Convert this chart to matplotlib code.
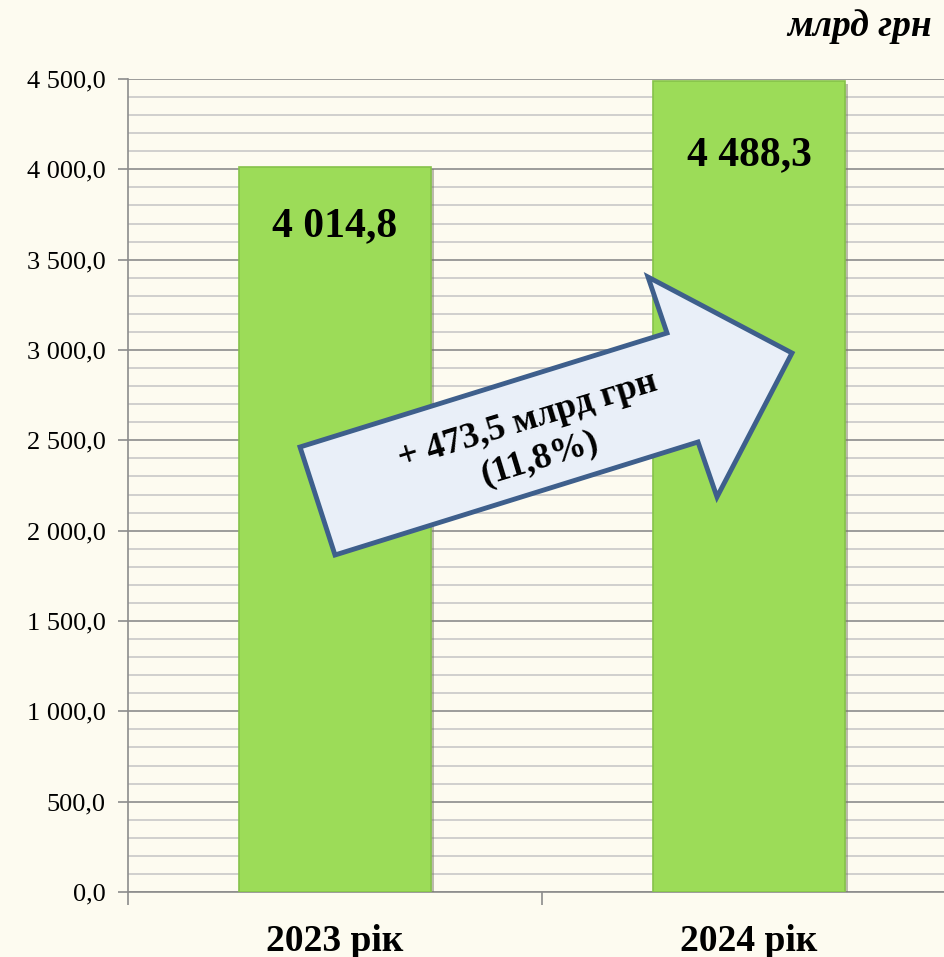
import matplotlib.pyplot as plt
import matplotlib.patheffects as pe
from matplotlib.patches import Polygon
from matplotlib.ticker import MultipleLocator, FixedLocator

# дані
years = ['2023 рік', '2024 рік']
values = [4014.8, 4488.3]
value_labels = ['4 014,8', '4 488,3']
change_text = '+ 473,5 млрд грн\n(11,8%)'
unit = 'млрд грн'

bg = '#FDFBF0'
bar_color = '#9CDC58'

plt.rcParams['font.family'] = ['Liberation Serif', 'DejaVu Serif']

fig = plt.figure(figsize=(9.44, 9.57), dpi=100, facecolor=bg)
ax = fig.add_axes([128 / 944, 65 / 957, 816 / 944, 813 / 957], facecolor=bg)

x = list(range(len(years)))
bars = ax.bar(x, values, width=0.464, color=bar_color, edgecolor='#86C24A',
              linewidth=1.2, zorder=3)
for b in bars:
    b.set_path_effects([pe.SimplePatchShadow(offset=(2, -2), shadow_rgbFace='#7a7a6a', alpha=0.5),
                        pe.Normal()])

# підписи значень всередині стовпчиків
offsets = [-60, -74]
for xi, v, lab, off in zip(x, values, value_labels, offsets):
    ax.annotate(lab, (xi, v), xytext=(0, off), textcoords='offset pixels',
                ha='center', va='center', fontsize=30, fontweight='bold', zorder=5)

ax.set_ylim(0, 4500)
ax.set_xlim(-0.5, 1.471)
ax.yaxis.set_major_locator(MultipleLocator(500))
ax.yaxis.set_minor_locator(MultipleLocator(100))
ax.grid(axis='y', which='major', color='#8C8C8C', linewidth=1.2, zorder=0)
ax.grid(axis='y', which='minor', color='#C4C4C4', linewidth=1.1, zorder=0)
ax.set_yticklabels([f'{int(t):,}'.replace(',', ' ') + ',0' for t in ax.get_yticks()])
ax.tick_params(axis='y', which='major', length=7, width=1.2, color='#8C8C8C',
               labelsize=19, pad=9)
ax.tick_params(axis='y', which='minor', length=0)

ax.set_xticks(x)
ax.set_xticklabels(years, fontsize=27, fontweight='bold')
ax.xaxis.set_minor_locator(FixedLocator([-0.5, 0.5, 1.5]))
ax.tick_params(axis='x', which='major', length=0, pad=23)
ax.tick_params(axis='x', which='minor', length=9, width=1.2, color='#8C8C8C')

for s in ['top', 'right']:
    ax.spines[s].set_visible(False)
for s in ['left', 'bottom']:
    ax.spines[s].set_color('#8C8C8C')
    ax.spines[s].set_linewidth(1.2)

# стрілка приросту (в пікселях фігури)
W, H = 944, 957
arrow_px = [(300, 447), (667, 333), (648, 277), (792, 353),
            (717, 497), (698, 442), (335, 555)]
arrow = Polygon([(px / W, 1 - py / H) for px, py in arrow_px], closed=True,
                transform=fig.transFigure, facecolor='#E9EFF8', edgecolor='#3E5F8C',
                linewidth=3.5, joinstyle='miter', zorder=6)
fig.patches.append(arrow)
fig.text(534 / W, 1 - 440 / H, change_text, rotation=17, rotation_mode='anchor',
         ha='center', va='center', multialignment='center', fontsize=26,
         fontweight='bold', linespacing=1.25, zorder=7)

fig.text(932 / W, 1 - 27 / H, unit, ha='right', va='center', fontsize=27,
         fontweight='bold', fontstyle='italic')

plt.savefig('out.png', dpi=100, facecolor=bg)
